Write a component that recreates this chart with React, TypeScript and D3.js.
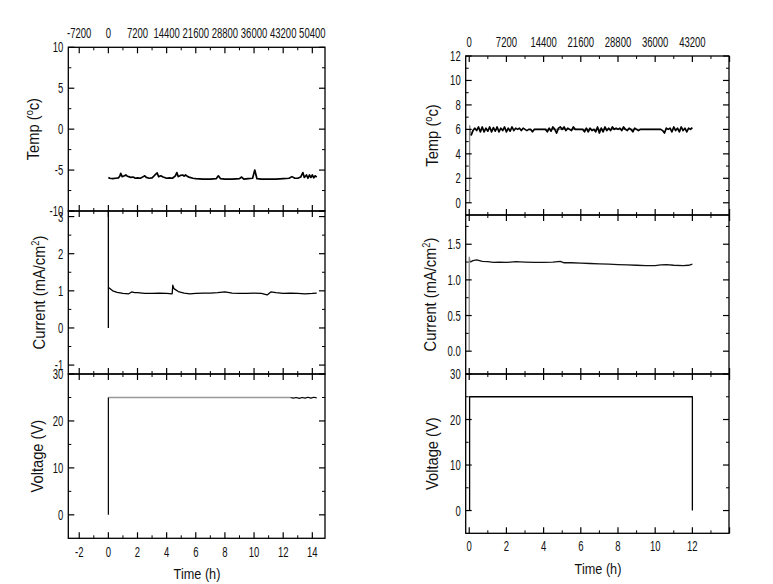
import React from 'react';
import * as d3 from 'd3';

type Pt = [number, number];

// ---- data (time in h, value) ----
const leftTemp: Pt[] = [
  [0, -5.9], [0.1, -6.0], [0.3, -6.05], [0.5, -6.0], [0.7, -5.95], [0.8, -5.7], [0.85, -5.4], [0.95, -5.8],
  [1.1, -5.7], [1.2, -5.6], [1.3, -5.75], [1.4, -5.8], [1.55, -5.9], [1.7, -5.85], [1.85, -6.0], [2.0, -5.95],
  [2.2, -6.0], [2.4, -5.8], [2.5, -5.7], [2.6, -5.9], [2.8, -6.0], [3.0, -5.95], [3.2, -5.6], [3.35, -5.35],
  [3.45, -5.8], [3.6, -5.7], [3.75, -5.85], [3.85, -5.9], [4.0, -6.0], [4.2, -5.95], [4.4, -6.0], [4.6, -5.7],
  [4.7, -5.3], [4.8, -5.8], [4.95, -5.65], [5.1, -5.6], [5.2, -5.75], [5.3, -5.6], [5.45, -5.8], [5.6, -5.9],
  [5.8, -6.0], [6.0, -6.05], [6.5, -6.1], [7.0, -6.1], [7.4, -6.05], [7.55, -5.7], [7.7, -6.05], [8.0, -6.1],
  [8.5, -6.1], [9.0, -6.05], [9.15, -5.85], [9.3, -6.1], [9.6, -6.05], [9.9, -6.0], [10.05, -5.0], [10.2, -6.05],
  [10.5, -6.1], [11.0, -6.1], [11.5, -6.1], [12.0, -6.05], [12.4, -6.0], [12.6, -5.8], [12.8, -6.0], [13.0, -6.0],
  [13.2, -5.85], [13.35, -5.3], [13.45, -5.9], [13.6, -5.6], [13.7, -6.0], [13.8, -5.6], [13.9, -5.9], [14.0, -5.6],
  [14.1, -5.95], [14.2, -5.7], [14.3, -5.85],
];

const leftCurrent: Pt[] = [
  [0, 0], [0, 3.15], [0, 1.1], [0.1, 1.06], [0.3, 1.0], [0.6, 0.96], [1.0, 0.93], [1.4, 0.92], [1.6, 0.97],
  [1.8, 0.95], [2.0, 0.95], [2.5, 0.93], [3.0, 0.93], [3.5, 0.94], [4.0, 0.93], [4.38, 0.92], [4.42, 1.15],
  [4.5, 1.06], [4.8, 0.98], [5.2, 0.94], [5.6, 0.92], [6.0, 0.93], [6.5, 0.94], [7.0, 0.94], [7.5, 0.95],
  [8.0, 0.97], [8.5, 0.94], [9.0, 0.93], [9.5, 0.93], [10.0, 0.94], [10.5, 0.93], [10.9, 0.89], [11.15, 0.97],
  [11.5, 0.95], [12.0, 0.93], [12.5, 0.94], [13.0, 0.93], [13.5, 0.92], [14.0, 0.93], [14.3, 0.94],
];

const leftVoltageRise: Pt[] = [[0, 0], [0, 25]];
const leftVoltageFlat: Pt[] = [[0, 25], [12.5, 25]];
const leftVoltageTail: Pt[] = [
  [12.5, 25], [12.7, 24.85], [12.9, 25.0], [13.1, 24.8], [13.3, 25.0], [13.5, 24.85], [13.7, 25.05], [13.9, 24.85],
  [14.1, 25.05], [14.3, 24.9],
];

const rightTempRise: Pt[] = [[0.02, 0], [0.02, 6.3], [0.1, 5.5]];
const rightTemp: Pt[] = [
  [0.1, 5.5], [0.2, 5.9], [0.3, 6.1], [0.4, 5.9], [0.5, 6.2], [0.6, 5.8], [0.7, 6.2], [0.8, 5.8], [0.9, 6.1],
  [1.0, 5.85], [1.1, 6.2], [1.2, 5.8], [1.3, 6.15], [1.4, 5.85], [1.5, 6.2], [1.6, 5.8], [1.7, 6.1], [1.8, 5.9],
  [1.9, 6.2], [2.0, 5.8], [2.1, 6.1], [2.2, 5.85], [2.3, 6.2], [2.4, 5.9], [2.5, 6.1], [2.6, 6.0], [2.7, 6.1],
  [2.8, 5.9], [2.9, 6.1], [3.0, 6.0], [3.1, 5.9], [3.2, 6.0], [3.3, 6.0], [3.4, 5.8], [3.5, 6.0], [4.1, 6.0],
  [4.2, 5.8], [4.3, 6.1], [4.4, 5.85], [4.5, 6.2], [4.6, 6.0], [4.7, 5.7], [4.8, 6.1], [4.9, 6.2], [5.0, 6.0],
  [5.1, 6.2], [5.2, 5.9], [5.3, 6.1], [5.4, 6.0], [5.5, 5.9], [5.6, 6.2], [5.7, 6.0], [6.1, 6.0], [6.2, 5.8],
  [6.3, 6.1], [6.4, 5.8], [6.5, 6.1], [6.6, 5.9], [6.7, 6.0], [6.8, 5.8], [6.9, 6.2], [7.0, 5.7], [7.1, 6.1],
  [7.2, 5.8], [7.3, 6.2], [7.4, 5.9], [7.5, 6.1], [7.6, 5.9], [7.7, 6.2], [7.8, 6.0], [7.9, 6.1], [8.0, 6.0],
  [8.1, 6.1], [8.2, 5.9], [8.3, 6.2], [8.4, 6.0], [8.5, 5.9], [8.6, 6.1], [8.7, 6.0], [8.8, 5.8], [8.9, 6.1],
  [9.0, 6.0], [9.1, 5.9], [9.2, 6.0], [10.3, 6.0], [10.4, 5.9], [10.5, 5.7], [10.6, 6.1], [10.7, 6.0],
  [10.8, 6.1], [10.9, 5.8], [11.0, 6.2], [11.1, 5.9], [11.2, 6.1], [11.3, 5.8], [11.4, 6.2], [11.5, 5.9],
  [11.6, 6.1], [11.7, 5.8], [11.8, 6.1], [11.9, 6.0], [12.0, 6.15],
];
const rightTempFlat: Pt[] = [[3.5, 6.0], [4.1, 6.0], [5.7, 6.0], [6.1, 6.0], [9.2, 6.0], [10.3, 6.0]];

const rightCurrentRise: Pt[] = [[0.0, 0], [0.0, 1.32], [0.05, 1.25]];
const rightCurrent: Pt[] = [
  [0.05, 1.25], [0.2, 1.27], [0.4, 1.28], [0.7, 1.26], [1.0, 1.255], [1.3, 1.245], [1.6, 1.25], [2.0, 1.245],
  [2.5, 1.255], [3.0, 1.25], [3.5, 1.245], [4.0, 1.245], [4.5, 1.25], [4.9, 1.26], [5.1, 1.24], [5.5, 1.24],
  [6.0, 1.235], [6.5, 1.23], [7.0, 1.225], [7.5, 1.22], [8.0, 1.215], [8.5, 1.21], [9.0, 1.205], [9.5, 1.2],
  [10.0, 1.2], [10.3, 1.21], [10.6, 1.215], [11.0, 1.205], [11.5, 1.2], [11.8, 1.205], [12.0, 1.22],
];

const rightVoltage: Pt[] = [[0.02, 0], [0.02, 25], [12, 25], [12, 0]];

// ---- tick values ----
const leftXMajor = [-2, 0, 2, 4, 6, 8, 10, 12, 14];
const leftXMinor = [-1, 1, 3, 5, 7, 9, 11, 13];
const rightXMajor = [0, 2, 4, 6, 8, 10, 12];
const rightXMinor = [1, 3, 5, 7, 9, 11, 13];

const leftTempTicks = [10, 5, 0, -5, -10];
const leftTempMinor = [7.5, 2.5, -2.5, -7.5];
const leftCurrentTicks = [3, 2, 1, 0, -1];
const leftCurrentMinor = [2.5, 1.5, 0.5, -0.5];
const voltageTicks = [30, 20, 10, 0];
const voltageMinor = [25, 15, 5];
const rightTempTicks = [12, 10, 8, 6, 4, 2, 0];
const rightTempMinor = [11, 9, 7, 5, 3, 1];
const rightCurrentTicks = [1.5, 1.0, 0.5, 0.0];
const rightCurrentMinor = [1.75, 1.25, 0.75, 0.25];

const FONT = '"Liberation Sans", Arial, sans-serif';

// condensed text, like the narrow face used in the original plot
const Label = ({ x, y, anchor = 'middle', size = 14, sx = 0.68, children }: {
  x: number; y: number; anchor?: string; size?: number; sx?: number; children: React.ReactNode;
}) => (
  <text transform={`translate(${x},${y}) scale(${sx},1)`} textAnchor={anchor} fontSize={size} fontFamily={FONT} fill="#111">
    {children}
  </text>
);

type Series = { data: Pt[]; color: string; width: number };

type PanelProps = {
  x: d3.ScaleLinear<number, number>;
  top: number;
  bottom: number;
  yDomain: [number, number];
  yMajor: number[];
  yMinor: number[];
  yFmt: (v: number) => string;
  xMajor: number[];
  xMinor: number[];
  label: React.ReactNode;
  labelX: number;
  series: Series[];
};

const Panel = ({ x, top, bottom, yDomain, yMajor, yMinor, yFmt, xMajor, xMinor, label, labelX, series }: PanelProps) => {
  const y = d3.scaleLinear().domain(yDomain).range([bottom, top]);
  const [x0, x1] = x.range();
  const line = d3.line<Pt>().x(d => x(d[0])).y(d => y(d[1]));
  const major = 6;
  const minor = 3;
  return (
    <g>
      {series.map((s, i) => (
        <path key={i} d={line(s.data) || ''} fill="none" stroke={s.color} strokeWidth={s.width} strokeLinejoin="round" />
      ))}
      <rect x={x0} y={top} width={x1 - x0} height={bottom - top} fill="none" stroke="#000" strokeWidth={1.3} />
      {yMajor.map(v => (
        <g key={'ym' + v}>
          <line x1={x0} x2={x0 + major} y1={y(v)} y2={y(v)} stroke="#000" strokeWidth={1.2} />
          <line x1={x1} x2={x1 - major} y1={y(v)} y2={y(v)} stroke="#000" strokeWidth={1.2} />
          <Label x={x0 - 5} y={y(v) + 5} anchor="end">{yFmt(v)}</Label>
        </g>
      ))}
      {yMinor.map(v => (
        <g key={'yn' + v}>
          <line x1={x0} x2={x0 + minor} y1={y(v)} y2={y(v)} stroke="#000" strokeWidth={1} />
          <line x1={x1} x2={x1 - minor} y1={y(v)} y2={y(v)} stroke="#000" strokeWidth={1} />
        </g>
      ))}
      {xMajor.map(v => (
        <g key={'xm' + v}>
          <line x1={x(v)} x2={x(v)} y1={top} y2={top + major} stroke="#000" strokeWidth={1.2} />
          <line x1={x(v)} x2={x(v)} y1={bottom} y2={bottom - major} stroke="#000" strokeWidth={1.2} />
        </g>
      ))}
      {xMinor.map(v => (
        <g key={'xn' + v}>
          <line x1={x(v)} x2={x(v)} y1={top} y2={top + minor} stroke="#000" strokeWidth={1} />
          <line x1={x(v)} x2={x(v)} y1={bottom} y2={bottom - minor} stroke="#000" strokeWidth={1} />
        </g>
      ))}
      <text
        transform={`translate(${labelX},${(top + bottom) / 2}) rotate(-90) scale(0.92,1)`}
        textAnchor="middle"
        fontSize={16}
        fontFamily={FONT}
        fill="#111"
      >
        {label}
      </text>
    </g>
  );
};

const tempLabel = (
  <>
    Temp (<tspan fontSize={10} dy={-6}>o</tspan>
    <tspan dy={6}>c)</tspan>
  </>
);
const currentLabel = (
  <>
    Current (mA/cm<tspan fontSize={10} dy={-6}>2</tspan>
    <tspan dy={6}>)</tspan>
  </>
);

const App = () => {
  const xl = d3.scaleLinear().domain([-2.75, 14.87]).range([68.3, 325]);
  const xr = d3.scaleLinear().domain([-0.19, 13.97]).range([465.7, 729]);
  const intFmt = (v: number) => String(v);
  const oneFmt = (v: number) => v.toFixed(1);

  return (
    <svg width={773} height={584} style={{ position: 'absolute', left: 0, top: 0, background: '#fff' }}>
      {/* left figure */}
      {leftXMajor.map(h => (
        <Label key={'lt' + h} x={xl(h)} y={38}>{h * 3600}</Label>
      ))}
      <Panel x={xl} top={47.3} bottom={211} yDomain={[-10, 10]} yMajor={leftTempTicks} yMinor={leftTempMinor}
        yFmt={intFmt} xMajor={leftXMajor} xMinor={leftXMinor} label={tempLabel} labelX={39}
        series={[{ data: leftTemp, color: '#000', width: 1.7 }]} />
      <Panel x={xl} top={211} bottom={374} yDomain={[-1.24, 3.15]} yMajor={leftCurrentTicks} yMinor={leftCurrentMinor}
        yFmt={intFmt} xMajor={leftXMajor} xMinor={leftXMinor} label={currentLabel} labelX={45}
        series={[{ data: leftCurrent, color: '#000', width: 1.3 }]} />
      <Panel x={xl} top={374} bottom={538.3} yDomain={[-5, 30]} yMajor={voltageTicks} yMinor={voltageMinor}
        yFmt={intFmt} xMajor={leftXMajor} xMinor={leftXMinor} label="Voltage (V)" labelX={43}
        series={[
          { data: leftVoltageFlat, color: '#999', width: 1.6 },
          { data: leftVoltageRise, color: '#000', width: 1.2 },
          { data: leftVoltageTail, color: '#000', width: 1.2 },
        ]} />
      {leftXMajor.map(h => (
        <Label key={'lb' + h} x={xl(h)} y={557}>{h}</Label>
      ))}
      <Label x={197} y={579} size={15.5} sx={0.82}>Time (h)</Label>

      {/* right figure */}
      {rightXMajor.map(h => (
        <Label key={'rt' + h} x={xr(h)} y={46.5}>{h * 3600}</Label>
      ))}
      <Panel x={xr} top={56} bottom={215} yDomain={[-1, 12]} yMajor={rightTempTicks} yMinor={rightTempMinor}
        yFmt={intFmt} xMajor={rightXMajor.concat([14])} xMinor={rightXMinor} label={tempLabel} labelX={438}
        series={[
          { data: rightTempFlat, color: '#888', width: 1.2 },
          { data: rightTempRise, color: '#888', width: 1.3 },
          { data: rightTemp, color: '#000', width: 1.7 },
        ]} />
      <Panel x={xr} top={215} bottom={374} yDomain={[-0.32, 1.91]} yMajor={rightCurrentTicks} yMinor={rightCurrentMinor}
        yFmt={oneFmt} xMajor={rightXMajor.concat([14])} xMinor={rightXMinor} label={currentLabel} labelX={436}
        series={[
          { data: rightCurrentRise, color: '#888', width: 1.3 },
          { data: rightCurrent, color: '#111', width: 1.3 },
        ]} />
      <Panel x={xr} top={374} bottom={533.3} yDomain={[-5, 30]} yMajor={voltageTicks} yMinor={voltageMinor}
        yFmt={intFmt} xMajor={rightXMajor.concat([14])} xMinor={rightXMinor} label="Voltage (V)" labelX={438}
        series={[{ data: rightVoltage, color: '#000', width: 1.3 }]} />
      {rightXMajor.map(h => (
        <Label key={'rb' + h} x={xr(h)} y={551}>{h}</Label>
      ))}
      <Label x={598} y={574} size={15.5} sx={0.82}>Time (h)</Label>
    </svg>
  );
};

export default App;
